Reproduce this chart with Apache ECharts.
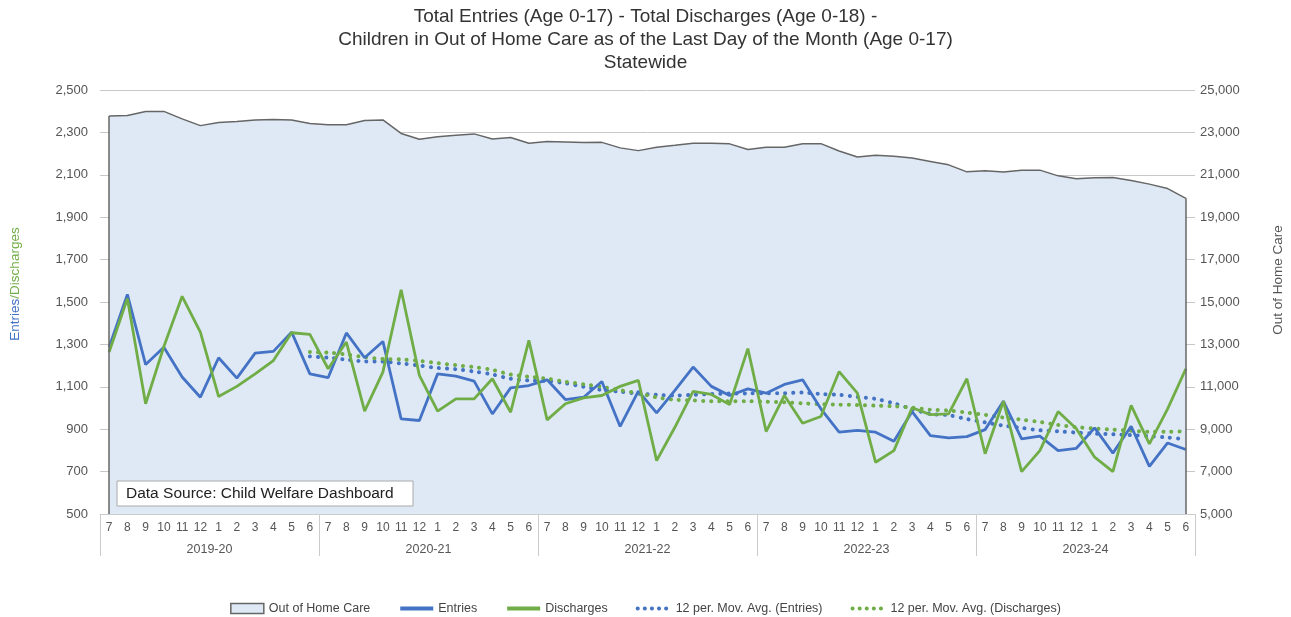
<!DOCTYPE html>
<html>
<head>
<meta charset="utf-8">
<script src="https://cdn.jsdelivr.net/npm/echarts@6/dist/echarts.min.js"></script>
<style>
html, body { margin: 0; background: #fff; }
#chart { width: 1291px; height: 617px; }
</style>
</head>
<body>
<div id="chart"></div>
<script>
// fiscal years run July..June
var fiscalYears = ['2019-20', '2020-21', '2021-22', '2022-23', '2023-24'];
var monthLabels = ['7', '8', '9', '10', '11', '12', '1', '2', '3', '4', '5', '6'];

var outOfHomeCare = [
  23770, 23800, 23990, 23990, 23640, 23320, 23470, 23510, 23590, 23610, 23590, 23420,
  23360, 23360, 23560, 23590, 22950, 22680, 22800, 22870, 22930, 22690, 22760, 22490,
  22570, 22550, 22520, 22530, 22270, 22140, 22300, 22390, 22490, 22490, 22460, 22190,
  22300, 22300, 22460, 22470, 22120, 21840, 21920, 21870, 21790, 21630, 21470, 21140,
  21190, 21130, 21220, 21220, 20950, 20810, 20860, 20870, 20730, 20560, 20350, 19890
];
var entries = [
  1287, 1536, 1205, 1287, 1146, 1051, 1237, 1141, 1259, 1267, 1358, 1161,
  1143, 1354, 1237, 1314, 949, 941, 1161, 1150, 1127, 972, 1095, 1106,
  1133, 1040, 1051, 1125, 913, 1080, 977, 1083, 1193, 1102, 1059, 1090,
  1070, 1111, 1133, 996, 886, 894, 886, 843, 983, 870, 859, 865,
  898, 1032, 854, 867, 799, 810, 906, 787, 914, 725, 835, 804
];
var discharges = [
  1264, 1516, 1020, 1290, 1527, 1358, 1054, 1102, 1161, 1224, 1355, 1347,
  1185, 1311, 985, 1169, 1558, 1154, 985, 1043, 1043, 1138, 980, 1319,
  944, 1020, 1048, 1059, 1102, 1130, 752, 909, 1078, 1064, 1016, 1280,
  889, 1059, 928, 960, 1172, 1070, 744, 799, 1001, 969, 972, 1138,
  784, 1032, 700, 799, 983, 902, 768, 700, 1012, 831, 996, 1185
];
var entriesAvg = [
  null, null, null, null, null, null, null, null, null, null, null, 1243,
  1237, 1228, 1220, 1219, 1210, 1200, 1189, 1183, 1172, 1158, 1138, 1130,
  1127, 1117, 1100, 1085, 1077, 1068, 1062, 1059, 1062, 1066, 1068, 1069,
  1070, 1070, 1073, 1066, 1062, 1052, 1043, 1022, 995, 972, 966, 948,
  932, 917, 906, 895, 890, 884, 879, 876, 872, 867, 861, 852
];
var dischargesAvg = [
  null, null, null, null, null, null, null, null, null, null, null, 1264,
  1261, 1253, 1240, 1231, 1229, 1222, 1212, 1202, 1193, 1180, 1158, 1148,
  1138, 1124, 1112, 1100, 1084, 1070, 1050, 1039, 1036, 1032, 1032, 1032,
  1030, 1027, 1022, 1018, 1016, 1014, 1011, 1008, 1002, 992, 988, 978,
  968, 955, 945, 934, 920, 910, 903, 898, 893, 888, 888, 891
];

var leftMin = 500, leftMax = 2500, leftStep = 200;
var rightMin = 5000, rightMax = 25000, rightStep = 2000;

var periods = [];
fiscalYears.forEach(function (fy) {
  monthLabels.forEach(function (m) { periods.push(fy + '|' + m); });
});

var font = 'Liberation Sans, Arial, sans-serif';
var blue = '#4472c4', green = '#70ad47';
var last = periods.length - 1;
var dots = [0.1, 8];

var option = {
  animation: false,
  textStyle: { fontFamily: font },
  title: {
    text: 'Total Entries (Age 0-17) - Total Discharges (Age 0-18) -\nChildren in Out of Home Care as of the Last Day of the Month (Age 0-17)\nStatewide',
    left: 'center',
    top: 0,
    textStyle: { fontSize: 19, fontWeight: 'normal', color: '#333', lineHeight: 23, fontFamily: font }
  },
  grid: { left: 100, right: 96, top: 90, bottom: 103 },
  legend: {
    top: 597,
    left: 'center',
    itemWidth: 33,
    itemHeight: 10,
    itemGap: 28,
    textStyle: { fontSize: 12.5, color: '#444', fontFamily: font },
    data: [
      { name: 'Out of Home Care', icon: 'rect', itemStyle: { color: '#dee9f5', borderColor: '#666', borderWidth: 1.5 } },
      { name: 'Entries', itemStyle: { opacity: 0 }, lineStyle: { width: 4 } },
      { name: 'Discharges', itemStyle: { opacity: 0 }, lineStyle: { width: 4 } },
      { name: '12 per. Mov. Avg. (Entries)', itemStyle: { opacity: 0 }, lineStyle: { width: 4, type: [0.1, 7], cap: 'round' } },
      { name: '12 per. Mov. Avg. (Discharges)', itemStyle: { opacity: 0 }, lineStyle: { width: 4, type: [0.1, 7], cap: 'round' } }
    ]
  },
  xAxis: [{
    type: 'category',
    data: periods,
    boundaryGap: true,
    axisLine: { lineStyle: { color: '#ccc' } },
    axisTick: { show: false },
    axisLabel: {
      interval: 0, margin: 8, fontSize: 12, color: '#555',
      formatter: function (v) { return v.split('|')[1]; }
    }
  }, {
    type: 'category',
    data: fiscalYears,
    position: 'bottom',
    boundaryGap: true,
    axisLine: { show: false },
    axisTick: { show: true, length: 42, interval: 0, lineStyle: { color: '#ccc' } },
    axisLabel: { interval: 0, margin: 29, fontSize: 12.5, color: '#555' },
    splitLine: { show: false }
  }],
  yAxis: [{
    type: 'value',
    min: leftMin, max: leftMax, interval: leftStep,
    axisLine: { show: false },
    axisTick: { show: false },
    axisLabel: { fontSize: 13, color: '#555', margin: 12 },
    splitLine: { lineStyle: { color: '#c8c8c8', width: 1 } }
  }, {
    type: 'value',
    min: rightMin, max: rightMax, interval: rightStep,
    axisLine: { show: false },
    axisTick: { show: false },
    axisLabel: { fontSize: 13, color: '#555', margin: 5 },
    splitLine: { show: false }
  }],
  series: [{
    name: 'Out of Home Care',
    type: 'line',
    yAxisIndex: 1,
    data: outOfHomeCare,
    symbol: 'none',
    z: 1,
    lineStyle: { color: '#666', width: 1.5 },
    itemStyle: { color: '#dee9f5', borderColor: '#666' },
    areaStyle: { color: '#dee9f5', opacity: 1, origin: 'start' },
    markLine: {
      silent: true,
      symbol: ['none', 'none'],
      label: { show: false },
      lineStyle: { color: '#666', type: 'solid', width: 1.5 },
      data: [
        [{ coord: [periods[0], rightMin] }, { coord: [periods[0], outOfHomeCare[0]] }],
        [{ coord: [periods[last], rightMin] }, { coord: [periods[last], outOfHomeCare[last]] }]
      ]
    }
  }, {
    name: 'Entries',
    type: 'line',
    data: entries,
    symbol: 'none',
    z: 3,
    itemStyle: { color: blue },
    lineStyle: { color: blue, width: 2.8 }
  }, {
    name: 'Discharges',
    type: 'line',
    data: discharges,
    symbol: 'none',
    z: 3,
    itemStyle: { color: green },
    lineStyle: { color: green, width: 2.8 }
  }, {
    name: '12 per. Mov. Avg. (Entries)',
    type: 'line',
    data: entriesAvg,
    symbol: 'none',
    smooth: 0.3,
    z: 2,
    itemStyle: { color: blue },
    lineStyle: { color: blue, width: 4, type: dots, cap: 'round' }
  }, {
    name: '12 per. Mov. Avg. (Discharges)',
    type: 'line',
    data: dischargesAvg,
    symbol: 'none',
    smooth: 0.3,
    z: 2,
    itemStyle: { color: green },
    lineStyle: { color: green, width: 4, type: dots, cap: 'round' }
  }],
  graphic: [{
    type: 'text',
    x: 15, y: 284,
    rotation: Math.PI / 2,
    style: {
      text: '{a|Entries}{b|/Discharges}',
      align: 'center', verticalAlign: 'middle',
      font: '13.5px ' + font,
      rich: {
        a: { fill: blue, fontSize: 13.5, fontFamily: font },
        b: { fill: green, fontSize: 13.5, fontFamily: font }
      }
    }
  }, {
    type: 'text',
    x: 1278, y: 280,
    rotation: Math.PI / 2,
    style: {
      text: 'Out of Home Care',
      align: 'center', verticalAlign: 'middle',
      font: '13.5px ' + font,
      fill: '#555'
    }
  }, {
    type: 'rect',
    x: 117, y: 481,
    z: 100,
    shape: { x: 0, y: 0, width: 296, height: 25 },
    style: { fill: '#fff', stroke: '#aaa', lineWidth: 1 }
  }, {
    type: 'text',
    x: 126, y: 494,
    z: 101,
    style: { text: 'Data Source: Child Welfare Dashboard', font: '15.5px ' + font, fill: '#222', verticalAlign: 'middle' }
  }]
};

var myChart = echarts.init(document.getElementById('chart'));
myChart.setOption(option);
</script>
</body>
</html>
